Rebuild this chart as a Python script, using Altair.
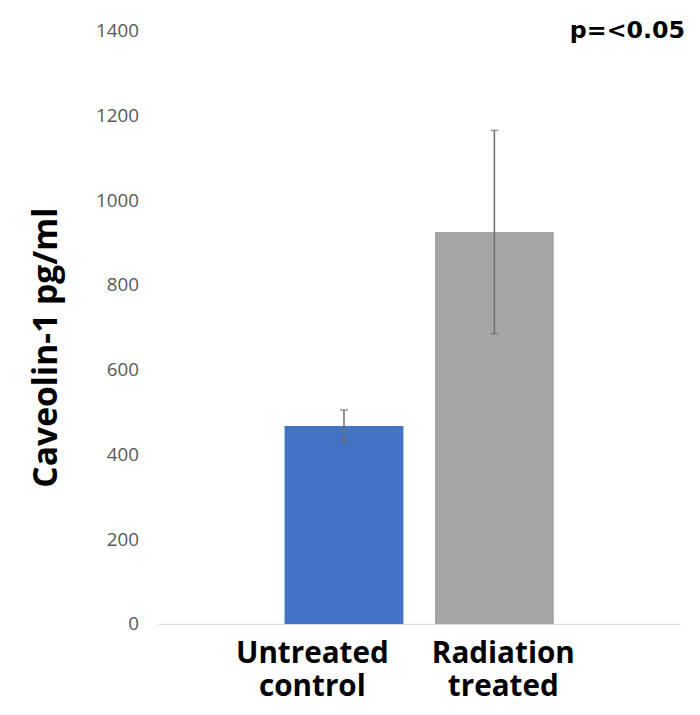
import altair as alt
import pandas as pd

categories = ["Untreated control", "Radiation treated"]
values = [467, 925]
errors = [38, 240]
colors = ["#4472C4", "#A5A5A5"]
y_ticks = [0, 200, 400, 600, 800, 1000, 1200, 1400]
p_label = "p=<0.05"

df = pd.DataFrame({
    "group": categories,
    "value": values,
    "low": [v - e for v, e in zip(values, errors)],
    "high": [v + e for v, e in zip(values, errors)],
    "color": colors,
})

W, H = 528, 600

x_enc = alt.X(
    "group:N",
    sort=categories,
    scale=alt.Scale(paddingInner=0.21, paddingOuter=0.84),
    axis=alt.Axis(
        title=None,
        labelAngle=0,
        labelExpr="split(datum.label, ' ')",
        labelFont="Open Sans",
        labelFontWeight="bold",
        labelFontSize=30,
        labelColor="#000000",
        labelLineHeight=33,
        labelBaseline="top",
        labelPadding=15,
        labelOffset={"condition": {"test": "datum.value === 'Untreated control'", "value": -32}, "value": 9},
        ticks=False,
        domainColor="#d9d9d9",
        domainWidth=1.5,
    ),
)

y_scale = alt.Scale(domain=[0, 1400], nice=False)

bars = alt.Chart(df).mark_bar().encode(
    x=x_enc,
    y=alt.Y(
        "value:Q",
        scale=y_scale,
        axis=alt.Axis(
            values=y_ticks,
            format="d",
            grid=False,
            domain=False,
            ticks=False,
            labelFont="Open Sans",
            labelFontSize=19,
            labelColor="#595959",
            labelPadding=20,
            title="Caveolin-1 pg/ml",
            titleFont="Open Sans",
            titleFontWeight="bold",
            titleFontSize=34,
            titleColor="#000000",
            titleX=-96,
            titleY=320,
            titleAngle=-90,
            titleBaseline="bottom",
            titleAlign="center",
        ),
    ),
    color=alt.Color("color:N", scale=None),
)

rule = alt.Chart(df).mark_rule(color="#6e6e6e", strokeWidth=1.5).encode(
    x=alt.X("group:N", sort=categories),
    y=alt.Y("low:Q", scale=y_scale),
    y2="high:Q",
)

cap_low = alt.Chart(df).mark_tick(color="#6e6e6e", size=8, thickness=1.5).encode(
    x=alt.X("group:N", sort=categories),
    y=alt.Y("low:Q", scale=y_scale),
)
cap_high = alt.Chart(df).mark_tick(color="#6e6e6e", size=8, thickness=1.5).encode(
    x=alt.X("group:N", sort=categories),
    y=alt.Y("high:Q", scale=y_scale),
)

ptext = alt.Chart(pd.DataFrame({"t": [p_label]})).mark_text(
    font="DejaVu Sans", fontWeight="bold", fontSize=24, align="right", baseline="alphabetic", color="#000000",
    dx=8,
).encode(
    text="t:N",
    x=alt.value(W - 3),
    y=alt.value(7),
)

chart = alt.layer(bars, rule, cap_low, cap_high, ptext).properties(
    width=W,
    height=H,
    background="#ffffff",
    autosize=alt.AutoSizeParams(type="none"),
    padding={"left": 152, "top": 19, "right": 12, "bottom": 80},
).configure_view(stroke=None)

chart.save("out.html", embed_options={"renderer": "svg", "actions": False})
